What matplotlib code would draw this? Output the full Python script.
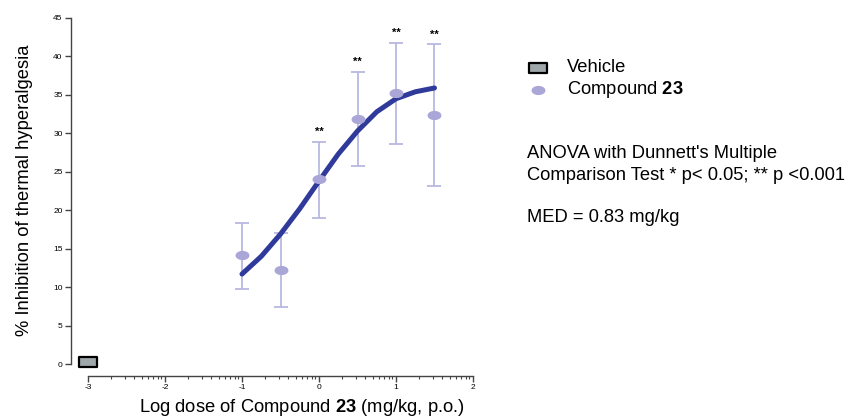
import numpy as np
import matplotlib
matplotlib.use("Agg")
import matplotlib.pyplot as plt
from matplotlib.path import Path

plt.rcParams['font.family'] = ['Liberation Sans', 'DejaVu Sans']
plt.rcParams['mathtext.fontset'] = 'custom'
plt.rcParams['mathtext.rm'] = 'Liberation Sans'
plt.rcParams['mathtext.bf'] = 'Liberation Sans:bold'

# Vehicle group
vehicle_x = [-3.0]
vehicle_y = [0.3]

# Compound 23 dose groups (log dose, mean, error bar low / high)
dose_log = [-1.0, -0.5, 0.0, 0.5, 1.0, 1.5]
inhibition = [14.2, 12.2, 24.0, 31.9, 35.2, 32.4]
err_low = [9.8, 7.4, 19.0, 25.8, 28.6, 23.1]
err_high = [18.3, 17.0, 28.9, 38.0, 41.8, 41.6]
stars = ['', '', '**', '**', '**', '**']

# fitted dose-response curve
curve_x = [-1.0, -0.75, -0.5, -0.25, 0.0, 0.25, 0.5, 0.75, 1.0, 1.25, 1.5]
curve_y = [11.7, 14.0, 16.9, 20.2, 23.8, 27.3, 30.3, 32.8, 34.5, 35.4, 35.9]

y_ticks = [0, 5, 10, 15, 20, 25, 30, 35, 40, 45]
x_ticks = [-3, -2, -1, 0, 1, 2]

purple = '#aaa7d8'
bar_col = '#b9b7e0'
curve_col = '#2f3a9a'
fs = 13.2

# marker shapes
t = np.linspace(0, 2 * np.pi, 60)
ellipse = Path(np.column_stack([np.cos(t), 0.62 * np.sin(t)]), closed=True)
rect = Path([(-1, -0.6), (1, -0.6), (1, 0.6), (-1, 0.6), (-1, -0.6)], closed=True)

fig = plt.figure(figsize=(8.49, 4.18), dpi=100)
ax = fig.add_axes([71 / 849, 42 / 418, (480 - 71) / 849, (376 - 10) / 418])

ax.plot(curve_x, curve_y, color=curve_col, lw=3.6, solid_capstyle='round',
        solid_joinstyle='round', zorder=3)

yerr = [np.array(inhibition) - np.array(err_low), np.array(err_high) - np.array(inhibition)]
ax.errorbar(dose_log, inhibition, yerr=yerr, fmt='none', ecolor=bar_col,
            elinewidth=1.3, capsize=5, capthick=1.3, zorder=2)
ax.plot(dose_log, inhibition, ls='none', marker=ellipse, ms=9,
        mfc=purple, mec=purple, zorder=4)
ax.plot(vehicle_x, vehicle_y, ls='none', marker=rect, ms=12.5,
        mfc='#9fa7aa', mec='black', mew=1.6, zorder=4)

for x, top, s in zip(dose_log, err_high, stars):
    if s:
        ax.annotate(s, (x, top), xytext=(0, 7), textcoords='offset points',
                    ha='center', va='center', fontsize=8, fontweight='bold')

ax.set_xlim(-3.221, 2.091)
ax.set_ylim(-1.56, 46.04)
ax.spines['top'].set_visible(False)
ax.spines['right'].set_visible(False)
ax.spines['left'].set_bounds(0, 45)
ax.spines['bottom'].set_bounds(-3, 2)
for sp in ('left', 'bottom'):
    ax.spines[sp].set_color('#444444')
    ax.spines[sp].set_linewidth(1.0)

ax.set_yticks(y_ticks)
ax.set_yticklabels([str(v) for v in y_ticks], fontsize=6)
ax.set_xticks(x_ticks)
ax.set_xticklabels([str(v) for v in x_ticks], fontsize=6)
minor = [d + np.log10(k) for d in x_ticks[:-1] for k in range(2, 10)]
ax.set_xticks(minor, minor=True)
ax.tick_params(axis='both', which='major', length=4, width=1.0, color='#444444', pad=2)
ax.tick_params(axis='x', which='minor', length=2, width=0.8, color='#444444')

# axis titles placed on the figure
fig.text(25 / 849, 1 - 190 / 418, '% Inhibition of thermal hyperalgesia', fontsize=fs,
         rotation=90, ha='center', va='center')
fig.text(302 / 849, 1 - 407 / 418, r'Log dose of Compound $\mathbf{23}$ (mg/kg, p.o.)',
         fontsize=fs, ha='center', va='center')

# legend drawn by hand on the figure
lx = 538 / 849
fig.add_artist(plt.Line2D([lx], [1 - 68 / 418], marker=rect, ms=12.5, mfc='#9fa7aa',
                          mec='black', mew=1.6, ls='none', transform=fig.transFigure))
fig.add_artist(plt.Line2D([lx], [1 - 90 / 418], marker=ellipse, ms=9, mfc=purple,
                          mec=purple, ls='none', transform=fig.transFigure))
fig.text(567 / 849, 1 - 68 / 418, 'Vehicle', fontsize=fs, va='center')
fig.text(567 / 849, 1 - 90 / 418, r'Compound $\mathbf{23}$', fontsize=fs, va='center')

fig.text(527 / 849, 1 - 154 / 418, "ANOVA with Dunnett's Multiple", fontsize=fs, va='center')
fig.text(527 / 849, 1 - 176 / 418, 'Comparison Test * p< 0.05; ** p <0.001', fontsize=fs, va='center')
fig.text(527 / 849, 1 - 218 / 418, 'MED = 0.83 mg/kg', fontsize=fs, va='center')

fig.savefig('out.png', dpi=100)
